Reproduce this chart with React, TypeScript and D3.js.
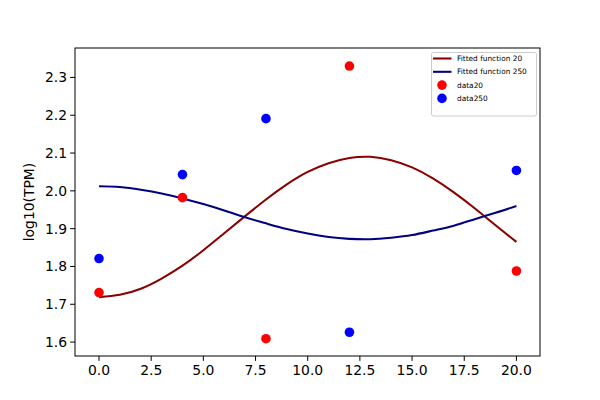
import React from "react";
import * as d3 from "d3";

const pointX = [0, 4, 8, 12, 20];
const data20 = [1.731, 1.982, 1.609, 2.33, 1.788];
const data250 = [1.821, 2.043, 2.191, 1.626, 2.054];

const curveX = [0, 1, 2, 3, 4, 5, 6, 7, 8, 9, 10, 11, 12, 13, 14, 15, 16, 17, 18, 19, 20];
const fit20 = [1.719, 1.725, 1.741, 1.768, 1.802, 1.843, 1.888, 1.933, 1.977, 2.017, 2.05, 2.073, 2.087, 2.09, 2.081, 2.062, 2.033, 1.996, 1.954, 1.909, 1.865];
const fit250 = [2.012, 2.01, 2.003, 1.993, 1.98, 1.965, 1.948, 1.93, 1.914, 1.899, 1.887, 1.878, 1.873, 1.872, 1.876, 1.883, 1.895, 1.908, 1.925, 1.942, 1.96];

const xTicks = [0, 2.5, 5, 7.5, 10, 12.5, 15, 17.5, 20];
const yTicks = [1.6, 1.7, 1.8, 1.9, 2.0, 2.1, 2.2, 2.3];

const legendItems = [
  { label: "Fitted function 20", kind: "line", color: "#8b0000" },
  { label: "Fitted function 250", kind: "line", color: "#000080" },
  { label: "data20", kind: "dot", color: "#ff0000" },
  { label: "data250", kind: "dot", color: "#0000ff" },
];

const W = 600;
const H = 400;
const L = 75, R = 540, T = 48, B = 356;

export default function App() {
  const x = d3.scaleLinear().domain([-1.15, 21.13]).range([L, R]);
  const y = d3.scaleLinear().domain([1.5632, 2.3778]).range([B, T]);
  const line = d3
    .line<number>()
    .x((_, i) => x(curveX[i]))
    .y((d) => y(d))
    .curve(d3.curveNatural);
  const font = "DejaVu Sans, sans-serif";
  const r = 4.8;
  return (
    <svg
      width={W}
      height={H}
      style={{ position: "absolute", left: 0, top: 0, background: "#fff" }}
      fontFamily={font}
    >
      <rect x={0} y={0} width={W} height={H} fill="#fff" />
      <defs>
        <clipPath id="clip">
          <rect x={L} y={T} width={R - L} height={B - T} />
        </clipPath>
      </defs>
      <g clipPath="url(#clip)">
        <path d={line(fit20) || ""} fill="none" stroke="#8b0000" strokeWidth={2.08} />
        <path d={line(fit250) || ""} fill="none" stroke="#000080" strokeWidth={2.08} />
        {pointX.map((px, i) => (
          <circle key={"r" + i} cx={x(px)} cy={y(data20[i])} r={r} fill="#ff0000" />
        ))}
        {pointX.map((px, i) => (
          <circle key={"b" + i} cx={x(px)} cy={y(data250[i])} r={r} fill="#0000ff" />
        ))}
      </g>
      <rect x={L} y={T} width={R - L} height={B - T} fill="none" stroke="#000" strokeWidth={1} />
      {xTicks.map((t) => (
        <g key={"x" + t}>
          <line x1={x(t)} x2={x(t)} y1={B} y2={B + 4.9} stroke="#000" strokeWidth={1} />
          <text x={x(t)} y={B + 18.5} fontSize={13.9} textAnchor="middle" fill="#000">
            {t.toFixed(1)}
          </text>
        </g>
      ))}
      {yTicks.map((t) => (
        <g key={"y" + t}>
          <line x1={L - 4.9} x2={L} y1={y(t)} y2={y(t)} stroke="#000" strokeWidth={1} />
          <text x={L - 8} y={y(t)} dy="0.35em" fontSize={13.9} textAnchor="end" fill="#000">
            {t.toFixed(1)}
          </text>
        </g>
      ))}
      <text
        transform={`translate(34, ${(T + B) / 2}) rotate(-90)`}
        fontSize={13.9}
        textAnchor="middle"
        fill="#000"
      >
        log10(TPM)
      </text>
      <g>
        <rect x={431.5} y={52.5} width={105} height={63.5} rx={2} fill="#fff" fillOpacity={0.8} stroke="#ccc" strokeWidth={1} />
        {legendItems.map((it, i) => {
          const cy = 58.5 + i * 13.3;
          return (
            <g key={it.label}>
              {it.kind === "line" ? (
                <line x1={433} x2={451.5} y1={cy} y2={cy} stroke={it.color} strokeWidth={2.08} />
              ) : (
                <circle cx={442} cy={cy} r={r} fill={it.color} />
              )}
              <text x={457} y={cy} dy="0.35em" fontSize={7.4} fill="#000">
                {it.label}
              </text>
            </g>
          );
        })}
      </g>
    </svg>
  );
}
